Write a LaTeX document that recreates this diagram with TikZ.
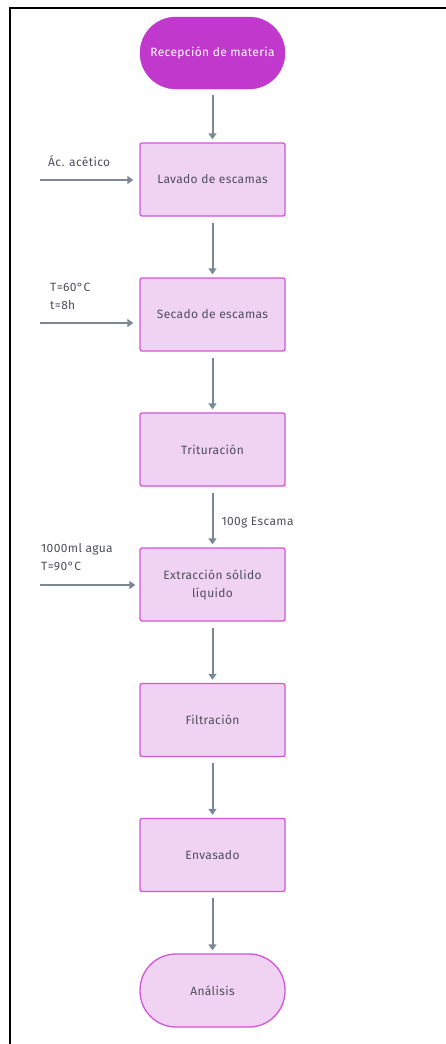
\documentclass[tikz,border=0pt]{standalone}
\usepackage{fontspec}
\setmainfont{Fira Sans}[LetterSpace=3]
\usetikzlibrary{arrows.meta}
\definecolor{termfill}{HTML}{C038CC}
\definecolor{boxfill}{HTML}{F0D2F2}
\definecolor{boxline}{HTML}{D255DA}
\definecolor{arrowc}{HTML}{7B8997}
\definecolor{txt}{HTML}{4E4E5C}
\tikzset{
  every node/.style={font=\fontsize{12}{14}\selectfont},
  procbox/.style={draw=boxline, fill=boxfill, line width=1.3pt, rounded corners=2pt,
     minimum width=145pt, minimum height=73pt, text=txt, align=center, inner sep=0pt},
  termstart/.style={fill=termfill, draw=termfill, rounded corners=36pt,
     minimum width=145pt, minimum height=72pt, text=white, inner sep=0pt},
  termend/.style={procbox, rounded corners=36pt},
  flow/.style={draw=arrowc, line width=2pt, -{Triangle[length=6pt,width=8pt]}, shorten >=3pt},
  lbl/.style={text=txt, align=left, inner sep=0pt, anchor=west},
}
\begin{document}
\begin{tikzpicture}[x=1pt,y=-1pt]
\useasboundingbox (0,0) rectangle (446,1044);
\draw[line width=2pt, black] (446,8) -- (10,8) -- (10,1044);

\node[termstart] (n0) at (212.5,53) {Recepción de materia};
\node[procbox] (n1) at (212.5,179.5) {Lavado de escamas};
\node[procbox] (n2) at (212.5,314.5) {Secado de escamas};
\node[procbox] (n3) at (212.5,449.5) {Trituración};
\node[procbox] (n4) at (212.5,584.5) {Extracción sólido\\[4pt]líquido};
\node[procbox] (n5) at (212.5,720) {Filtración};
\node[procbox] (n6) at (212.5,855) {Envasado};
\node[termend] (n7) at (212.5,990.5) {Análisis};

\draw[flow, shorten <=6pt] (n0) -- (n1);
\draw[flow, shorten <=6pt] (n1) -- (n2);
\draw[flow, shorten <=6pt] (n2) -- (n3);
\draw[flow, shorten <=6pt] (n3) -- node[lbl, right=8pt, pos=0.6]{100g Escama} (n4);
\draw[flow, shorten <=6pt] (n4) -- (n5);
\draw[flow, shorten <=6pt] (n5) -- (n6);
\draw[flow, shorten <=6pt] (n6) -- (n7);

\coordinate (i1) at (40,180);
\coordinate (i2) at (40,323);
\coordinate (i3) at (40,585);
\draw[flow, shorten >=6pt] (i1) -- (i1 -| n1.west);
\draw[flow, shorten >=6pt] (i2) -- (i2 -| n2.west);
\draw[flow, shorten >=4pt] (i3) -- (i3 -| n4.west);

\node[lbl] (l1) at (48,161) {Ác. acético};
\node[lbl, anchor=north west] (l2) at (50,283) {T=60°C\\[4pt]t=8h};
\node[lbl, anchor=north west] (l3) at (41,543) {1000ml agua\\[4pt]T=90°C};
\end{tikzpicture}
\end{document}
